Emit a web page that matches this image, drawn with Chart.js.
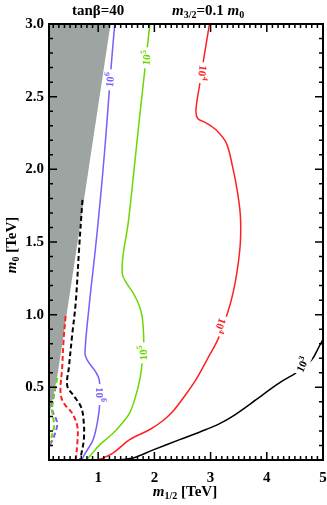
<!DOCTYPE html>
<html lang="en">
<head>
<meta charset="UTF-8">
<title>tanβ=40, m3/2 = 0.1 m0</title>
<style>
    body { margin: 0; padding: 0; background: #fff; }
    #wrap { width: 327px; height: 505px; position: relative; }
</style>
</head>
<body>
<div id="wrap"><canvas id="contours"></canvas></div>

<script src="https://cdn.jsdelivr.net/npm/chart.js"></script>
<script>
    // axis ranges and tick labels
    const xRange = [0.125, 5];
    const yRange = [0, 3];
    const xTicks = [1, 2, 3, 4, 5];
    const yTicks = [0.5, 1.0, 1.5, 2.0, 2.5, 3.0];

    // excluded region (grey), [m1/2, m0] in TeV
    const excluded = [[0.125, 3.0], [1.22, 3.0], [0.273, 0.576], [0.125, 0.30], [0.125, 3.0]];

    // solid contours
    const c1e6 = [[0.71, 0], [0.76, 0.04], [0.91, 0.14], [0.99, 0.27], [1.03, 0.40], [1.02, 0.55], [0.95, 0.61],
        [0.80, 0.69], [0.765, 0.74], [0.85, 1.10], [0.95, 1.45], [1.04, 1.80], [1.12, 2.15], [1.19, 2.50],
        [1.25, 2.80], [1.296, 3.0]];
    const c1e5 = [[0.79, 0], [0.85, 0.025], [1.03, 0.106], [1.24, 0.175], [1.42, 0.25], [1.56, 0.324], [1.66, 0.43],
        [1.74, 0.553], [1.78, 0.66], [1.81, 0.80], [1.80, 0.92], [1.77, 1.01], [1.70, 1.09], [1.62, 1.15],
        [1.50, 1.22], [1.43, 1.28], [1.44, 1.40], [1.53, 1.62], [1.62, 1.93], [1.72, 2.30], [1.82, 2.65], [1.92, 3.0]];
    const c1e4 = [[0.97, 0], [1.09, 0.014], [1.27, 0.049], [1.56, 0.14], [1.92, 0.21], [2.15, 0.27], [2.33, 0.335],
        [2.52, 0.43], [2.74, 0.553], [2.95, 0.70], [3.13, 0.83], [3.30, 1.01], [3.40, 1.15], [3.48, 1.32],
        [3.53, 1.50], [3.53, 1.68], [3.48, 1.84], [3.39, 2.02], [3.28, 2.18], [3.10, 2.27], [2.92, 2.32],
        [2.77, 2.35], [2.74, 2.41], [2.80, 2.57], [2.89, 2.79], [2.98, 3.0]];
    const c1e3 = [[1.35, 0], [1.62, 0.014], [1.98, 0.07], [2.45, 0.14], [2.92, 0.21], [3.16, 0.25], [3.39, 0.30],
        [3.81, 0.415], [4.07, 0.49], [4.30, 0.55], [4.52, 0.60], [4.80, 0.69], [4.93, 0.78], [5.0, 0.83]];

    // dashed contours (lower left)
    const d1e3 = [[0.72, 1.79], [0.66, 1.45], [0.60, 1.08], [0.54, 0.87], [0.48, 0.64], [0.45, 0.51], [0.57, 0.44],
        [0.70, 0.36], [0.745, 0.25], [0.745, 0.14], [0.70, 0.04], [0.68, 0]];
    const d1e4 = [[0.42, 0.99], [0.38, 0.80], [0.36, 0.64], [0.33, 0.46], [0.39, 0.39], [0.54, 0.32], [0.63, 0.23],
        [0.63, 0.12], [0.60, 0]];
    const d1e5 = [[0.273, 0.565], [0.215, 0.46], [0.18, 0.347], [0.215, 0.232], [0.156, 0.14], [0.126, 0.094]];
    const d1e6 = [[0.245, 0.507], [0.20, 0.42], [0.18, 0.347], [0.27, 0.255], [0.215, 0.163], [0.126, 0.094]];

    // contour labels: text, exponent, position [m1/2, m0], angle (deg)
    const contourLabels = [
        ['10', '6', 1.207, 2.616, -85, '#7b5cff'],
        ['10', '5', 1.858, 2.767, -84, '#6ad800'],
        ['10', '4', 2.856, 2.664, 98, '#ff2020'],
        ['10', '6', 1.03, 0.45, 90, '#7b5cff'],
        ['10', '5', 1.80, 0.737, -92, '#6ad800'],
        ['10', '4', 3.175, 0.924, 110, '#ff2020'],
        ['10', '3', 4.635, 0.656, -65, '#000000']
    ];

    const PURPLE = '#7b5cff', GREEN = '#6ad800', RED = '#ff2020', BLACK = '#000000';
    const SERIF = '"Liberation Serif", "Times New Roman", serif';

    function line(pts, color, dashed) {
        return {
            data: pts.map(p => ({ x: p[0], y: p[1] })),
            borderColor: color,
            borderWidth: dashed ? 2 : 1.5,
            borderDash: dashed ? [5, 3] : [],
            pointRadius: 0,
            tension: 0.35,
            showLine: true,
            fill: false
        };
    }

    // draws a row of text pieces with different fonts, returns width
    function richText(ctx, parts, x, y, measureOnly) {
        let w = 0;
        parts.forEach(p => {
            ctx.font = p.font;
            if (!measureOnly) ctx.fillText(p.t, x + w, y + (p.dy || 0));
            w += ctx.measureText(p.t).width;
        });
        return w;
    }

    const B15 = 'bold 15px ' + SERIF;
    const BI15 = 'italic bold 15px ' + SERIF;
    const B10 = 'bold 10px ' + SERIF;

    const decorations = {
        id: 'decorations',
        afterDraw(chart) {
            const ctx = chart.ctx;
            const { left, right, top, bottom } = chart.chartArea;
            const xs = chart.scales.x, ys = chart.scales.y;
            ctx.save();

            // contour labels
            contourLabels.forEach(l => {
                const px = xs.getPixelForValue(l[2]);
                const py = ys.getPixelForValue(l[3]);
                ctx.save();
                ctx.translate(px, py);
                ctx.rotate(l[4] * Math.PI / 180);
                ctx.font = 'bold 11px ' + SERIF;
                const w1 = ctx.measureText(l[0]).width;
                ctx.font = 'bold 8px ' + SERIF;
                const w2 = ctx.measureText(l[1]).width;
                const w = w1 + w2;
                ctx.fillStyle = '#fff';
                ctx.fillRect(-w / 2 - 3, -6, w + 6, 12);
                ctx.fillStyle = l[5];
                ctx.textBaseline = 'middle';
                ctx.font = 'bold 11px ' + SERIF;
                ctx.fillText(l[0], -w / 2, 1);
                ctx.font = 'bold 8px ' + SERIF;
                ctx.fillText(l[1], -w / 2 + w1, -3);
                ctx.restore();
            });

            // frame
            ctx.strokeStyle = '#000';
            ctx.lineWidth = 2;
            ctx.strokeRect(left, top, right - left, bottom - top);

            // inward ticks
            ctx.lineWidth = 1.5;
            ctx.beginPath();
            for (let i = 1; i < 50; i++) {
                const v = i / 10;
                if (v <= xRange[0]) continue;
                const px = xs.getPixelForValue(v);
                const len = i % 10 === 0 ? 8 : 4;
                ctx.moveTo(px, bottom); ctx.lineTo(px, bottom - len);
                ctx.moveTo(px, top); ctx.lineTo(px, top + len);
            }
            for (let i = 1; i < 30; i++) {
                const py = ys.getPixelForValue(i / 10);
                const len = i % 5 === 0 ? 8 : 4;
                ctx.moveTo(left, py); ctx.lineTo(left + len, py);
                ctx.moveTo(right, py); ctx.lineTo(right - len, py);
            }
            ctx.stroke();

            // titles
            ctx.fillStyle = '#000';
            ctx.textBaseline = 'alphabetic';
            richText(ctx, [{ t: 'tanβ=40', font: B15 }], 72, 15);
            richText(ctx, [
                { t: 'm', font: BI15 }, { t: '3/2', font: B10, dy: 3 },
                { t: '=0.1 ', font: B15 }, { t: 'm', font: BI15 }, { t: '0', font: B10, dy: 3 }
            ], 172, 15);

            // x axis title
            const xt = [{ t: 'm', font: BI15 }, { t: '1/2', font: B10, dy: 3 }, { t: ' [TeV]', font: B15 }];
            const xw = richText(ctx, xt, 0, 0, true);
            richText(ctx, xt, 185 - xw / 2, 496);

            // y axis title
            const yt = [{ t: 'm', font: BI15 }, { t: '0', font: B10, dy: 3 }, { t: ' [TeV]', font: B15 }];
            const yw = richText(ctx, yt, 0, 0, true);
            ctx.translate(16, 245);
            ctx.rotate(-Math.PI / 2);
            richText(ctx, yt, -yw / 2, 0);
            ctx.restore();
        }
    };

    new Chart(document.getElementById('contours'), {
        type: 'scatter',
        data: {
            datasets: [
                line(c1e3, BLACK, false),
                line(c1e4, RED, false),
                line(c1e5, GREEN, false),
                line(c1e6, PURPLE, false),
                line(d1e3, BLACK, true),
                line(d1e4, RED, true),
                line(d1e5, GREEN, true),
                line(d1e6, PURPLE, true),
                {
                    data: excluded.map(p => ({ x: p[0], y: p[1] })),
                    backgroundColor: '#9ea4a2',
                    borderWidth: 0,
                    pointRadius: 0,
                    showLine: true,
                    tension: 0,
                    fill: 'shape'
                }
            ]
        },
        options: {
            responsive: true,
            maintainAspectRatio: false,
            animation: false,
            layout: { padding: { top: 24, right: 4, left: 0, bottom: 0 } },
            plugins: { legend: { display: false }, tooltip: { enabled: false } },
            scales: {
                x: {
                    type: 'linear',
                    min: xRange[0], max: xRange[1],
                    grid: { display: false, drawTicks: false },
                    border: { display: false },
                    afterBuildTicks: s => { s.ticks = xTicks.map(v => ({ value: v })); },
                    afterFit: s => { s.height = 45; s.paddingLeft = 0; s.paddingRight = 0; },
                    ticks: {
                        autoSkip: false, maxRotation: 0, padding: 9, color: '#000',
                        font: { family: SERIF, size: 15, weight: 'bold' },
                        callback: v => String(v)
                    }
                },
                y: {
                    type: 'linear',
                    min: yRange[0], max: yRange[1],
                    grid: { display: false, drawTicks: false },
                    border: { display: false },
                    afterBuildTicks: s => { s.ticks = yTicks.map(v => ({ value: v })); },
                    afterFit: s => { s.width = 49; s.paddingTop = 0; s.paddingBottom = 0; },
                    ticks: {
                        autoSkip: false, padding: 5, color: '#000',
                        font: { family: SERIF, size: 15, weight: 'bold' },
                        callback: v => v.toFixed(1)
                    }
                }
            }
        },
        plugins: [decorations]
    });
</script>
</body>
</html>
